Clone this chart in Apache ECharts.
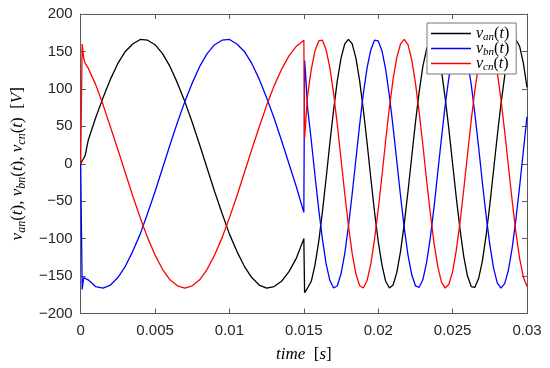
<!DOCTYPE html>
<html><head><meta charset="utf-8">
<script src="https://cdn.jsdelivr.net/npm/echarts@6/dist/echarts.min.js"></script>
<style>html,body{margin:0;padding:0;background:#fff}#c{width:550px;height:368px}</style>
</head><body><div id="c"></div>
<script>
// time [s]
const time = [
  0, 0.0001, 0.0002, 0.0003, 0.0005,
  0.001, 0.0015, 0.002, 0.0025, 0.003, 0.0035, 0.004, 0.0045, 0.005, 0.0055,
  0.006, 0.0065, 0.007, 0.0075, 0.008, 0.0085, 0.009, 0.0095, 0.01, 0.0105,
  0.011, 0.0115, 0.012, 0.0125, 0.013, 0.0135, 0.014, 0.0145, 0.015,
  0.01505, 0.0151,
  0.01525, 0.0155, 0.01575, 0.016, 0.01625, 0.0165, 0.01675, 0.017, 0.01725, 0.0175, 0.01775,
  0.018, 0.01825, 0.0185, 0.01875, 0.019, 0.01925, 0.0195, 0.01975,
  0.02, 0.02025, 0.0205, 0.02075, 0.021, 0.02125, 0.0215, 0.02175,
  0.022, 0.02225, 0.0225, 0.02275, 0.023, 0.02325, 0.0235, 0.02375,
  0.024, 0.02425, 0.0245, 0.02475, 0.025, 0.02525, 0.0255, 0.02575,
  0.026, 0.02625, 0.0265, 0.02675, 0.027, 0.02725, 0.0275, 0.02775,
  0.028, 0.02825, 0.0285, 0.02875, 0.029, 0.02925, 0.0295, 0.02975, 0.03
];
const van = [
  0, 4, 7, 11, 31,
  61, 88, 113, 134, 150, 160, 166, 165, 159, 147,
  130, 108, 83, 55, 25, -6, -37, -66, -94, -117,
  -137, -152, -162, -166, -164, -157, -144, -126, -100,
  -172, -170,
  -166, -157, -135, -104, -64, -19, 28, 72, 111, 141, 160,
  166, 160, 141, 111, 72, 28, -19, -64,
  -104, -135, -157, -166, -162, -145, -117, -80,
  -37, 9, 55, 96, 130, 153, 165, 164,
  150, 124, 88, 46, 0, -46, -88, -124,
  -150, -164, -165, -153, -130, -96, -55, -9,
  37, 80, 117, 145, 162, 166, 157, 135, 102
];
const vbn = [
  0, -168, -152, -150, -155,
  -164, -166, -162, -152, -137, -117, -94, -66, -37, -6,
  25, 55, 83, 108, 130, 147, 159, 165, 166, 160,
  150, 134, 113, 88, 61, 31, 0, -31, -65,
  138, 125,
  75, 31, -16, -61, -101, -134, -156, -166, -163, -147, -120,
  -83, -40, 6, 52, 94, 128, 152, 165,
  164, 151, 126, 91, 49, 3, -43, -86,
  -122, -148, -163, -165, -155, -132, -99, -58,
  -12, 34, 78, 115, 144, 161, 166, 158,
  137, 106, 66, 22, -25, -69, -108, -139,
  -159, -166, -160, -142, -113, -75, -31, 16, 63
];
const vcn = [
  0, 160, 141, 134, 128,
  106, 79, 49, 19, -12, -43, -72, -99, -122, -141,
  -155, -163, -166, -163, -155, -141, -122, -99, -72, -43,
  -12, 19, 49, 78, 104, 126, 144, 157, 165,
  34, 48,
  91, 126, 151, 164, 165, 152, 128, 94, 52, 6, -40,
  -83, -120, -147, -163, -166, -156, -134, -101,
  -61, -16, 31, 75, 113, 142, 160, 166,
  159, 139, 108, 69, 25, -22, -66, -106,
  -137, -158, -166, -161, -144, -115, -78, -34,
  12, 58, 99, 132, 155, 165, 163, 148,
  122, 86, 43, -3, -49, -91, -126, -151, -164
];
const xTickLabels = ['0', '0.005', '0.01', '0.015', '0.02', '0.025', '0.03'];
const yTickLabels = ['-200', '-150', '-100', '-50', '0', '50', '100', '150', '200'];
const seriesNames = ['van', 'vbn', 'vcn'];
const seriesSubs = ['an', 'bn', 'cn'];
const seriesColors = ['#000000', '#0000ff', '#ff0000'];

const xMin = +xTickLabels[0], xMax = +xTickLabels[xTickLabels.length - 1];
const xStep = +xTickLabels[1] - +xTickLabels[0];
const yMin = +yTickLabels[0], yMax = +yTickLabels[yTickLabels.length - 1];
const yStep = +yTickLabels[1] - +yTickLabels[0];

const SERIF = 'Liberation Serif';
function richSet(size) {
  return {
    i: {fontFamily: SERIF, fontStyle: 'italic', fontSize: size, lineHeight: 20, color: '#000'},
    r: {fontFamily: SERIF, fontSize: size, lineHeight: 20, color: '#000'},
    s: {fontFamily: SERIF, fontStyle: 'italic', fontSize: Math.round(size * 0.7), lineHeight: 12, padding: [8, 0, 0, 0], color: '#000'}
  };
}
const AX = '#5a5a5a';
const labelStyle = {fontFamily: 'Liberation Sans', fontSize: 15, color: '#262626'};
const boxLine = {onZero: false, show: true, lineStyle: {color: AX, width: 1}};
const boxTick = {show: true, inside: true, length: 5, lineStyle: {color: AX}};

const chart = echarts.init(document.getElementById('c'), null, {renderer: 'canvas'});
const vals = [van, vbn, vcn];
const ySub = seriesSubs.map(s => '{i|v}{s|' + s + '}{r|(}{i|t}{r|)}').join('{r|, }');
chart.setOption({
  animation: false,
  backgroundColor: '#fff',
  grid: {left: 77, right: 23, top: 14, bottom: 49, containLabel: false},
  xAxis: [{
    type: 'value', min: xMin, max: xMax, interval: xStep, position: 'bottom',
    axisLine: boxLine, axisTick: boxTick, splitLine: {show: false},
    axisLabel: Object.assign({margin: 10, formatter: v => String(+v.toFixed(4))}, labelStyle),
    name: '{i|time}{r|  [}{i|s}{r|]}', nameLocation: 'middle', nameGap: 31,
    nameTextStyle: {rich: richSet(17)}
  }, {
    type: 'value', min: xMin, max: xMax, interval: xStep, position: 'top',
    axisLine: boxLine, axisTick: boxTick,
    axisLabel: {show: false}, splitLine: {show: false}
  }],
  yAxis: [{
    type: 'value', min: yMin, max: yMax, interval: yStep, position: 'left',
    axisLine: boxLine, axisTick: boxTick, splitLine: {show: false},
    axisLabel: Object.assign({margin: 8, formatter: v => String(v).replace('-', '\u2212')}, labelStyle),
    name: ySub + '{r|  [}{i|V}{r|]}', nameLocation: 'middle', nameGap: 50, nameRotate: 90,
    nameTextStyle: {rich: richSet(17)}
  }, {
    type: 'value', min: yMin, max: yMax, interval: yStep, position: 'right',
    axisLine: boxLine, axisTick: boxTick,
    axisLabel: {show: false}, splitLine: {show: false}
  }],
  legend: {
    data: seriesNames, orient: 'vertical', left: 427, top: 23,
    icon: 'rect', itemWidth: 40, itemHeight: 1.6, itemGap: -4,
    padding: [1, 7, 1, 4], borderColor: '#777', borderWidth: 1, backgroundColor: '#fff',
    selectedMode: false,
    formatter: name => '{i|v}{s|' + seriesSubs[seriesNames.indexOf(name)] + '}{r|(}{i|t}{r|)}',
    textStyle: {rich: richSet(16)}
  },
  series: seriesNames.map((n, k) => ({
    name: n, type: 'line', xAxisIndex: 0, yAxisIndex: 0,
    data: time.map((t, i) => [t, vals[k][i]]),
    symbol: 'none', showSymbol: false, smooth: false,
    color: seriesColors[k],
    lineStyle: {color: seriesColors[k], width: 1.3}
  }))
});
</script></body></html>
